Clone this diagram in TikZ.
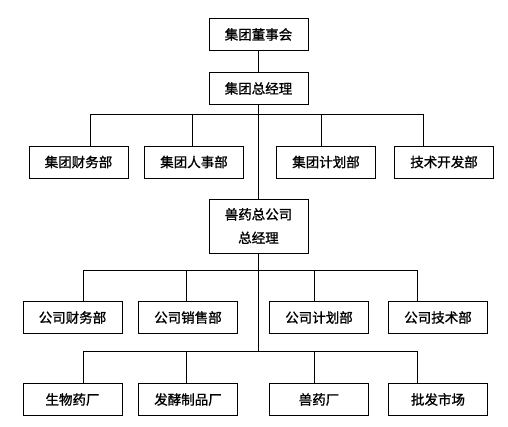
\documentclass[tikz,border=0pt]{standalone}
\usepackage{fontspec}
\newfontfamily\cjk[UprightFeatures={FakeBold=1.2}]{Noto Sans CJK SC}

\begin{document}
\begin{tikzpicture}[x=1pt, y=-1pt, line width=1pt,
    every node/.style={font=\cjk\fontsize{13.5}{23.5}\selectfont},
    box/.style={draw, line width=1pt, minimum width=99pt, minimum height=32pt, inner sep=0pt}]
  \useasboundingbox (0,0) rectangle (508,426);

  % Group headquarters
  \node[box] (board) at (258.5,34.5) {集团董事会};
  \node[box] (gm) at (258.5,88.5) {集团总经理};

  % Group departments
  \node[box] (gfin) at (78.5,162) {集团财务部};
  \node[box] (ghr) at (194,162) {集团人事部};
  \node[box] (gplan) at (326,162) {集团计划部};
  \node[box] (gtech) at (444,162) {技术开发部};

  % Veterinary drug company
  \node[box, minimum height=54pt, align=center] (co) at (258.5,226) {兽药总公司\\总经理};

  % Company departments
  \node[box] (cfin) at (72.5,317.5) {公司财务部};
  \node[box] (csale) at (188,317.5) {公司销售部};
  \node[box] (cplan) at (319,317.5) {公司计划部};
  \node[box] (ctech) at (438,317.5) {公司技术部};

  % Plants and market
  \node[box] (bio) at (72.5,399.5) {生物药厂};
  \node[box] (ferm) at (188,399.5) {发酵制品厂};
  \node[box] (vet) at (319,399.5) {兽药厂};
  \node[box] (mkt) at (438,399.5) {批发市场};

  % Bus points
  \coordinate (g1) at (90,114);  \coordinate (g2) at (192,114);
  \coordinate (g3) at (321,114); \coordinate (g4) at (423,114);
  \coordinate (c1) at (83,270);  \coordinate (c2) at (186,270);
  \coordinate (c3) at (314,270); \coordinate (c4) at (417,270);
  \coordinate (f1) at (83,351);  \coordinate (f2) at (186,351);
  \coordinate (f3) at (314,351); \coordinate (f4) at (417,351);

  \draw (board) -- (gm);
  \draw (gm) -- (co);
  \draw (co.south) -- (co.south |- f1);

  \draw (g1) -- (g4);
  \draw (g1) -- (g1 |- gfin.north);
  \draw (g2) -- (g2 |- ghr.north);
  \draw (g3) -- (g3 |- gplan.north);
  \draw (g4) -- (g4 |- gtech.north);

  \draw (c1) -- (c4);
  \draw (c1) -- (c1 |- cfin.north);
  \draw (c2) -- (c2 |- csale.north);
  \draw (c3) -- (c3 |- cplan.north);
  \draw (c4) -- (c4 |- ctech.north);

  \draw (f1) -- (f4);
  \draw (f1) -- (f1 |- bio.north);
  \draw (f2) -- (f2 |- ferm.north);
  \draw (f3) -- (f3 |- vet.north);
  \draw (f4) -- (f4 |- mkt.north);
\end{tikzpicture}
\end{document}
